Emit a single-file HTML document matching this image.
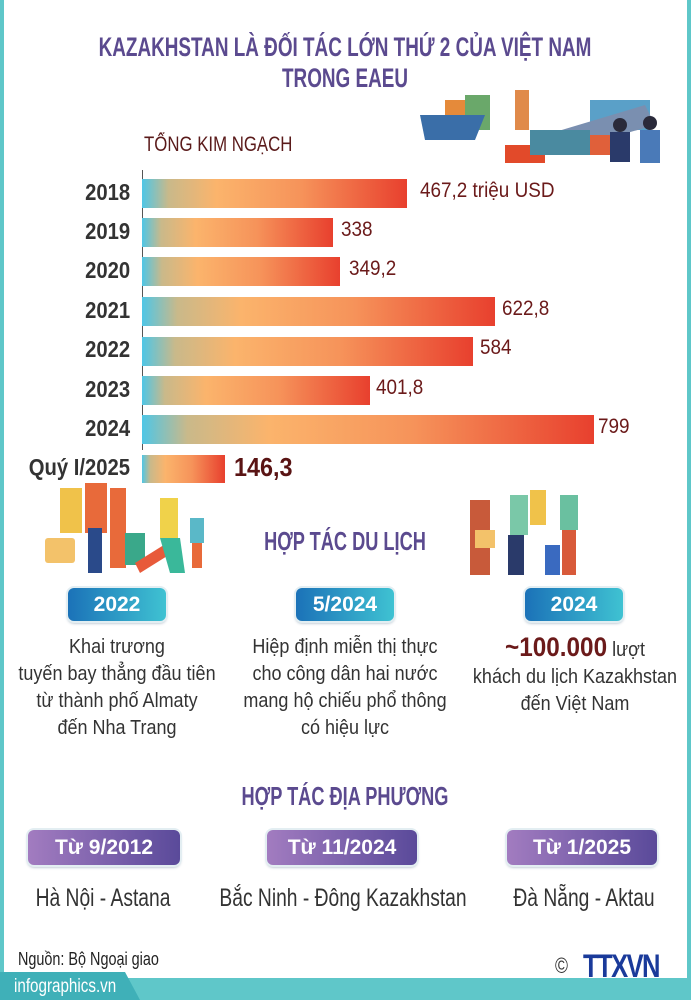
<!DOCTYPE html>
<html><head><meta charset="utf-8"><style>
*{margin:0;padding:0;box-sizing:border-box}
body{width:691px;height:1000px;position:relative;background:#fff;overflow:hidden;font-family:"Liberation Sans",sans-serif;}
.bd{position:absolute;top:0;bottom:0;width:4px;background:#5fc7c9}
.t{position:absolute;white-space:nowrap;transform:scaleX(.8);transform-origin:left center}
.c{transform:translateX(-50%) scaleX(.8);transform-origin:center center}
.title{color:#5b4a8f;font-weight:bold;font-size:27px;left:345px;transform:translateX(-50%) scaleX(.7);transform-origin:center center}
.yr{font-weight:bold;font-size:23px;color:#333;transform-origin:right center;transform:scaleX(.88)}
.bar{position:absolute;left:142px;height:29px;background:linear-gradient(90deg,#4fc6e6 0%,#c9b98a 10%,#fbb46c 28%,#f6935a 60%,#e8402e 100%)}
.val{font-size:21px;color:#6b1a1a;transform:scaleX(.9)}
.box{position:absolute;height:33px;border-radius:6px;color:#fff;font-weight:bold;font-size:21px;text-align:center;line-height:33px;box-shadow:0 0 0 2px #e3eef2, 0 2px 3px #9ab}
.blue{background:linear-gradient(90deg,#1b72b8,#3fc2d2)}
.pur{background:linear-gradient(90deg,#a27cc0,#5a4a9a);height:35px;line-height:35px}
.tx{font-size:20px;color:#333;text-align:center;line-height:27px;transform:translateX(-50%) scaleX(.9);transform-origin:center center}
.loc{font-size:25px;color:#333;transform:translateX(-50%) scaleX(.77);transform-origin:center center}
</style></head><body>
<div class="bd" style="left:0"></div><div class="bd" style="right:0"></div>
<div class="t title" style="top:32px">KAZAKHSTAN LÀ ĐỐI TÁC LỚN THỨ 2 CỦA VIỆT NAM</div>
<div class="t title" style="top:63px">TRONG EAEU</div>
<svg style="position:absolute;left:415px;top:85px" width="260" height="90">
<rect x="30" y="15" width="20" height="30" fill="#e58a3a"/><rect x="50" y="10" width="25" height="35" fill="#6aa86a"/><rect x="100" y="5" width="14" height="40" fill="#e08a4a"/><rect x="175" y="15" width="60" height="30" fill="#5aa0c8"/>
<path d="M5 30 L70 30 L60 55 L10 55Z" fill="#3a6ea8"/><path d="M130 50 L230 20 L240 40 L170 60Z" fill="#7a8fb0"/>
<rect x="90" y="60" width="40" height="18" fill="#e24a2a"/><rect x="115" y="45" width="60" height="25" fill="#4a8aa0"/><rect x="175" y="50" width="20" height="20" fill="#e0603a"/>
<circle cx="205" cy="40" r="7" fill="#2a2a3a"/><rect x="195" y="47" width="20" height="30" fill="#2a3a6a"/><circle cx="235" cy="38" r="7" fill="#2a2a3a"/><rect x="225" y="45" width="20" height="33" fill="#4a7ab8"/>
</svg>
<div class="t" style="left:144px;top:133px;font-size:21px;color:#5a1a1a">TỔNG KIM NGẠCH</div>
<div style="position:absolute;left:142px;top:170px;width:1px;height:280px;background:#555"></div>
<div class="bar" style="top:179px;width:265px"></div><div class="t yr" style="right:561px;top:179px">2018</div><div class="t val" style="left:420px;top:179px">467,2 triệu USD</div>
<div class="bar" style="top:218px;width:191px"></div><div class="t yr" style="right:561px;top:218px">2019</div><div class="t val" style="left:341px;top:218px">338</div>
<div class="bar" style="top:257px;width:198px"></div><div class="t yr" style="right:561px;top:257px">2020</div><div class="t val" style="left:349px;top:257px">349,2</div>
<div class="bar" style="top:297px;width:353px"></div><div class="t yr" style="right:561px;top:297px">2021</div><div class="t val" style="left:502px;top:297px">622,8</div>
<div class="bar" style="top:337px;width:331px"></div><div class="t yr" style="right:561px;top:336px">2022</div><div class="t val" style="left:480px;top:336px">584</div>
<div class="bar" style="top:376px;width:228px"></div><div class="t yr" style="right:561px;top:376px">2023</div><div class="t val" style="left:376px;top:376px">401,8</div>
<div class="bar" style="top:415px;width:452px"></div><div class="t yr" style="right:561px;top:415px">2024</div><div class="t val" style="left:598px;top:415px">799</div>
<div class="bar" style="top:455px;width:83px;height:28px"></div><div class="t yr" style="right:561px;top:454px">Quý I/2025</div><div class="t" style="left:234px;top:452px;font-size:26px;font-weight:bold;color:#5a1414;transform:scaleX(.9)">146,3</div>
<svg style="position:absolute;left:40px;top:468px" width="180" height="110">
<rect x="5" y="70" width="30" height="25" rx="3" fill="#f3c26a"/><rect x="20" y="20" width="22" height="45" fill="#f0c24a"/><rect x="45" y="15" width="22" height="50" fill="#e86a3a"/><rect x="48" y="60" width="14" height="45" fill="#2a4a8a"/><rect x="70" y="20" width="16" height="80" fill="#e86a3a"/><rect x="85" y="65" width="20" height="32" fill="#3aa88a"/><path d="M95 95 L135 70 L140 80 L100 105Z" fill="#e85a3a"/><rect x="120" y="30" width="18" height="40" fill="#f0d24a"/><path d="M120 70 L140 70 L145 105 L130 105Z" fill="#3ab89a"/><rect x="150" y="50" width="14" height="25" fill="#5ab8c8"/><rect x="152" y="75" width="10" height="25" fill="#e86a3a"/>
</svg>
<div class="t title" style="top:526px;font-size:26px">HỢP TÁC DU LỊCH</div>
<svg style="position:absolute;left:460px;top:475px" width="130" height="105">
<rect x="10" y="25" width="20" height="75" fill="#c85a3a"/><rect x="15" y="55" width="20" height="18" fill="#f3c26a"/><rect x="50" y="20" width="18" height="40" fill="#7ac8a8"/><rect x="48" y="60" width="16" height="40" fill="#2a3a6a"/><rect x="70" y="15" width="16" height="35" fill="#f0c24a"/><rect x="85" y="70" width="15" height="30" fill="#3a6ac0"/><rect x="100" y="20" width="18" height="35" fill="#6ac0a0"/><rect x="102" y="55" width="14" height="45" fill="#d85a3a"/>
</svg>
<div class="box blue" style="left:68px;top:588px;width:98px">2022</div>
<div class="box blue" style="left:296px;top:588px;width:98px">5/2024</div>
<div class="box blue" style="left:525px;top:588px;width:98px">2024</div>
<div class="t tx" style="left:117px;top:634px">Khai trương<br>tuyến bay thẳng đầu tiên<br>từ thành phố Almaty<br>đến Nha Trang</div>
<div class="t tx" style="left:345px;top:634px">Hiệp định miễn thị thực<br>cho công dân hai nước<br>mang hộ chiếu phổ thông<br>có hiệu lực</div>
<div class="t tx" style="left:575px;top:664px">khách du lịch Kazakhstan<br>đến Việt Nam</div>
<div class="t c" style="left:575px;top:632px;font-size:20px;color:#333;transform:translateX(-50%) scaleX(.9);transform-origin:center center"><span style="font-size:27px;font-weight:bold;color:#6b1a1a">~100.000</span> lượt</div>
<div class="t title" style="top:781px;font-size:26px">HỢP TÁC ĐỊA PHƯƠNG</div>
<div class="box pur" style="left:28px;top:830px;width:152px">Từ 9/2012</div>
<div class="box pur" style="left:267px;top:830px;width:150px">Từ 11/2024</div>
<div class="box pur" style="left:507px;top:830px;width:150px">Từ 1/2025</div>
<div class="t loc" style="left:103px;top:884px">Hà Nội - Astana</div>
<div class="t loc" style="left:343px;top:884px">Bắc Ninh - Đông Kazakhstan</div>
<div class="t loc" style="left:584px;top:884px">Đà Nẵng - Aktau</div>
<div class="t" style="left:18px;top:949px;font-size:18px;color:#222">Nguồn: Bộ Ngoại giao</div>
<div class="t" style="left:555px;top:953px;font-size:22px;color:#333">©</div>
<div class="t" style="left:583px;top:948px;font-size:32px;font-weight:bold;color:#1a3a9a;letter-spacing:-2px">TTXVN</div>
<div style="position:absolute;left:0;top:978px;width:691px;height:22px;background:#5fc7c9"></div>
<div style="position:absolute;left:0;top:972px;width:140px;height:28px;background:#3fb0b8;clip-path:polygon(0 0,125px 0,140px 100%,0 100%)"></div>
<div class="t" style="left:14px;top:976px;font-size:19px;color:#fff">infographics.vn</div>
</body></html>
